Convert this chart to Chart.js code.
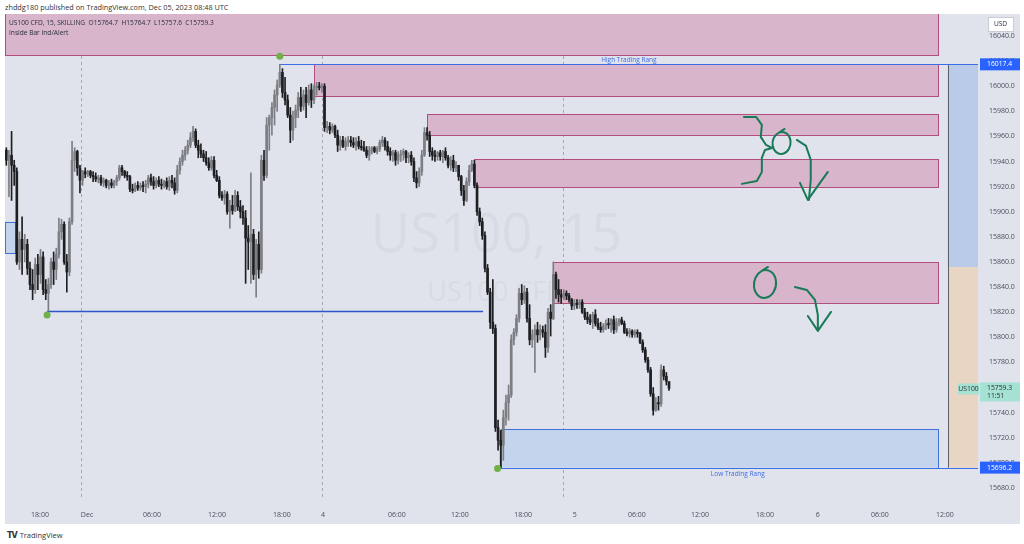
<!DOCTYPE html>
<html>
<head>
<meta charset="utf-8">
<script src="https://cdn.jsdelivr.net/npm/chart.js@4.4.1/dist/chart.umd.min.js"></script>
<style>
  body { margin: 0; background: #fff; width: 1024px; height: 544px; overflow: hidden; position: relative; font-family: 'Open Sans', sans-serif; }
  #hdr { position: absolute; left: 5px; top: 2px; font-size: 7.3px; color: #333; white-space: nowrap; }
  #wrap { position: absolute; left: 5px; top: 14px; width: 1015px; height: 510px; }
  #logo { position: absolute; left: 7px; top: 530px; font-size: 7.5px; color: #333; white-space: nowrap; }
  #logo b { font-family: 'DejaVu Sans', sans-serif; font-size: 8px; letter-spacing: -1px; margin-right: 3px; }
</style>
</head>
<body>
<div id="hdr">zhddg180 published on TradingView.com, Dec 05, 2023 08:48 UTC</div>
<div id="wrap"><canvas id="chart"></canvas></div>
<div id="logo"><b>TV</b>TradingView</div>
<script>
// US100 CFD, 15 min bars (Nov 30 14:45 -> Dec 5 08:45)
const opens = [
  15949,15941,15945,15937,15932,15860,15878,15870,15874,15855,
  15842,15838,15858,15850,15864,15838,15835,15842,15860,15854,
  15866,15884,15890,15860,15852,15892,15941,15948,15935,15925,
  15932,15930,15932,15929,15928,15926,15927,15923,15925,15921,
  15923,15921,15924,15927,15935,15932,15929,15928,15918,15917,
  15921,15919,15921,15920,15922,15927,15924,15921,15925,15922,
  15921,15924,15920,15925,15923,15917,15933,15940,15945,15949,
  15953,15959,15964,15953,15949,15946,15943,15939,15935,15941,
  15929,15925,15913,15911,15914,15900,15905,15901,15913,15904,
  15900,15895,15879,15876,15882,15850,15874,15854,15941,15929,
  15969,15975,15983,15993,16001,16011,15995,15989,15977,15965,
  15975,15981,15991,15984,15993,15987,15997,15989,15999,16000,
  15999,16000,15967,15968,15965,15968,15961,15953,15957,15952,
  15956,15957,15955,15953,15956,15952,15951,15949,15945,15949,
  15951,15948,15950,15955,15957,15952,15948,15945,15947,15941,
  15945,15946,15948,15943,15945,15940,15927,15923,15932,15945,
  15963,15961,15948,15945,15944,15947,15944,15948,15943,15937,
  15941,15935,15937,15928,15917,15909,15924,15933,15938,15921,
  15900,15892,15881,15855,15836,15812,15807,15728,15718,15714,
  15736,15748,15754,15798,15804,15815,15835,15830,15836,15815,
  15798,15802,15806,15802,15806,15804,15792,15820,15815,15850,
  15838,15834,15832,15835,15833,15830,15825,15827,15826,15828,
  15820,15816,15814,15812,15818,15811,15808,15806,15809,15811,
  15810,15814,15806,15812,15814,15811,15804,15803,15805,15802,
  15804,15803,15796,15790,15782,15774,15755,15742,15748,15747,
  15774,15769,15764.7
];
const highs = [
  15951,15949,15964,15941,15935,15884,15896,15882,15878,15860,
  15854,15863,15866,15870,15868,15846,15847,15863,15868,15871,
  15895,15894,15892,15866,15895,15956,15951,15949,15937,15933,
  15935,15933,15933,15932,15931,15929,15929,15927,15926,15925,
  15926,15925,15929,15937,15937,15933,15932,15929,15922,15923,
  15924,15923,15924,15925,15929,15930,15928,15927,15928,15926,
  15925,15927,15928,15929,15927,15937,15943,15949,15952,15957,
  15963,15968,15966,15957,15954,15949,15948,15943,15944,15944,
  15933,15928,15916,15917,15916,15909,15913,15917,15916,15909,
  15905,15901,15889,15931,15886,15878,15884,15945,15949,15975,
  15977,15987,15997,16005,16017.4,16014,16007,15993,15983,15980,
  15985,15995,15999,15997,15999,16001,16002,16001,16003,16003,
  16002,16002,15972,15971,15970,15969,15965,15960,15960,15959,
  15960,15960,15959,15959,15960,15957,15956,15952,15952,15952,
  15952,15952,15957,15960,15959,15956,15951,15949,15949,15948,
  15949,15950,15949,15947,15948,15943,15932,15935,15949,15967,
  15967,15964,15951,15949,15948,15949,15949,15951,15945,15944,
  15945,15940,15937,15929,15921,15927,15937,15941,15941,15923,
  15903,15895,15884,15858,15839,15846,15810,15734,15726,15742,
  15754,15762,15802,15807,15818,15839,15842,15841,15839,15826,
  15806,15810,15812,15810,15809,15810,15823,15826,15860,15852,
  15846,15838,15838,15837,15835,15831,15830,15830,15830,15830,
  15823,15820,15818,15820,15822,15815,15812,15811,15814,15815,
  15815,15817,15815,15815,15816,15813,15807,15807,15806,15806,
  15806,15804,15798,15792,15784,15776,15760,15752,15753,15778,
  15777,15772,15764.7
];
const lows = [
  15937,15912,15909,15921,15858,15854,15850,15860,15850,15838,
  15830,15835,15838,15843,15834,15830,15821,15839,15842,15846,
  15863,15878,15858,15836,15849,15890,15932,15929,15915,15921,
  15927,15928,15927,15924,15924,15923,15921,15920,15919,15918,
  15919,15919,15921,15925,15929,15927,15925,15916,15915,15916,
  15917,15917,15916,15915,15919,15921,15918,15919,15920,15918,
  15919,15918,15917,15919,15914,15915,15930,15937,15941,15946,
  15951,15956,15951,15943,15943,15940,15937,15933,15933,15927,
  15924,15911,15909,15906,15898,15887,15898,15900,15901,15895,
  15890,15843,15854,15843,15846,15832,15847,15851,15925,15927,
  15949,15961,15969,15980,15999,15991,15985,15975,15955,15957,
  15967,15975,15980,15981,15975,15985,15983,15986,15993,15997,
  15995,15964,15963,15962,15963,15959,15948,15949,15951,15949,
  15952,15952,15951,15949,15950,15949,15948,15943,15941,15946,
  15947,15946,15948,15952,15949,15945,15941,15940,15937,15938,
  15940,15941,15939,15939,15937,15924,15919,15920,15929,15944,
  15957,15944,15941,15940,15941,15941,15939,15941,15935,15933,
  15932,15932,15925,15913,15905,15908,15921,15932,15919,15897,
  15889,15878,15852,15834,15807,15803,15725,15710,15696.2,15702,
  15730,15734,15752,15794,15801,15812,15826,15827,15812,15794,
  15792,15772,15796,15798,15800,15784,15788,15801,15814,15831,
  15828,15827,15830,15830,15828,15822,15822,15823,15823,15819,
  15814,15811,15810,15807,15809,15806,15804,15804,15806,15807,
  15804,15803,15804,15809,15810,15803,15801,15800,15800,15800,
  15800,15795,15788,15780,15772,15753,15738,15741,15742,15745,
  15766,15762,15757.6
];
const closes = [
  15941,15945,15937,15932,15860,15878,15870,15874,15855,15842,
  15838,15858,15850,15864,15838,15835,15842,15860,15854,15866,
  15884,15890,15860,15852,15892,15941,15948,15935,15925,15932,
  15930,15932,15929,15928,15926,15927,15923,15925,15921,15923,
  15921,15924,15927,15935,15932,15929,15928,15918,15917,15921,
  15919,15921,15920,15922,15927,15924,15921,15925,15922,15921,
  15924,15920,15925,15923,15917,15933,15940,15945,15949,15953,
  15959,15964,15953,15949,15946,15943,15939,15935,15941,15929,
  15925,15913,15911,15914,15900,15905,15901,15913,15904,15900,
  15895,15879,15876,15882,15850,15874,15854,15941,15929,15969,
  15975,15983,15993,16001,16011,15995,15989,15977,15965,15975,
  15981,15991,15984,15993,15987,15997,15989,15999,16000,15999,
  16000,15967,15968,15965,15968,15961,15953,15957,15952,15956,
  15957,15955,15953,15956,15952,15951,15949,15945,15949,15951,
  15948,15950,15955,15957,15952,15948,15945,15947,15941,15945,
  15946,15948,15943,15945,15940,15927,15923,15932,15945,15963,
  15961,15948,15945,15944,15947,15944,15948,15943,15937,15941,
  15935,15937,15928,15917,15909,15924,15933,15938,15921,15900,
  15892,15881,15855,15836,15812,15807,15728,15718,15714,15736,
  15748,15754,15798,15804,15815,15835,15830,15836,15815,15798,
  15802,15806,15802,15806,15804,15792,15820,15815,15850,15838,
  15834,15832,15835,15833,15830,15825,15827,15826,15828,15820,
  15816,15814,15812,15818,15811,15808,15806,15809,15811,15810,
  15814,15806,15812,15814,15811,15804,15803,15805,15802,15804,
  15803,15796,15790,15782,15774,15755,15742,15748,15747,15774,
  15769,15765,15759.3
];

// time axis (bar index) and price axis
const xTickPos = [12.8, 30.7, 55.4, 80.1, 104.8, 120.4, 148.5, 172.5, 196.5, 216.2, 239.8, 263.8, 288.5, 308.6, 332.2, 356.9];
const xTickLabels = ['18:00', 'Dec', '06:00', '12:00', '18:00', '4', '06:00', '12:00', '18:00', '5', '06:00', '12:00', '18:00', '6', '06:00', '12:00'];
const sessionBreaks = [28.3, 120, 211.7];
const yTicks = [15680, 15700, 15720, 15740, 15760, 15780, 15800, 15820, 15840, 15860, 15880, 15900, 15920, 15940, 15960, 15980, 16000, 16020, 16040];

// drawn zones (bar index from/to, price top/bottom)
const zoneStart = [-0.5, 117, 160, 178, 208, 188, -0.5];
const zoneEnd = [354.3, 354.3, 354.3, 354.3, 354.3, 354.3, 3.3];
const zoneTop = [16070, 16017.7, 15977.9, 15942.0, 15860.0, 15727.0, 15892];
const zoneBottom = [16024.9, 15992.2, 15961.2, 15919.7, 15827.4, 15696.2, 15867];
const zoneKind = ['supply', 'supply', 'supply', 'supply', 'supply', 'demand', 'demand'];

// horizontal levels
const levelStart = [104, 186.8, 15.5];
const levelEnd = [369.5, 369.5, 181.3];
const levelPrice = [16017.4, 15696.2, 15821];
const levelText = ['High Trading Rang', 'Low Trading Rang', ''];
const pivotIdx = [104, 186.8, 15.5];
const pivotPrice = [16017.4, 15696.2, 15821];

// trading range column at the right
const rangeStart = 358;
const rangeHigh = 16017.4;
const rangeMid = 15856;
const rangeLow = 15696.2;

// hand drawn notes (bar index, price)
const noteStrokes = [
  [[280.5, 15975.5], [285.1, 15975.5], [287.3, 15969.2], [286.9, 15959.6], [288.9, 15953.2], [291.1, 15950.8], [288.5, 15949.2], [287.3, 15942.9], [287.3, 15931.7], [285.4, 15924.5], [279.7, 15922.2]],
  [[300.6, 15957.2], [304.1, 15952.4], [305.9, 15941.3], [305.9, 15925.3], [305.2, 15909.4]],
  [[301.8, 15923], [304.8, 15909.4], [312.4, 15931.7]],
  [[299.9, 15840.1], [304.4, 15837.7], [307.5, 15829.8], [308.6, 15817.8], [308.6, 15805.9]],
  [[304.8, 15817], [308.6, 15805.1], [313.6, 15820.2]]
];
const noteRings = [[294.8, 15954.8], [288.5, 15842.5]];

const upColor = '#7c7e83';
const downColor = '#1e1f22';
const candleColors = closes.map((c, i) => c >= opens[i] ? upColor : downColor);
const wickData = lows.map((l, i) => ({ x: i, y: [l, highs[i]] }));
const bodyData = opens.map((o, i) => ({ x: i, y: [o, closes[i]] }));

Chart.defaults.font.family = "'Open Sans', sans-serif";

const background = {
  id: 'background',
  beforeDraw(chart) {
    const ctx = chart.ctx;
    ctx.save();
    ctx.fillStyle = '#e0e3eb';
    ctx.fillRect(0, 0, chart.width, chart.height);
    ctx.restore();
  }
};

const drawings = {
  id: 'drawings',
  beforeDatasetsDraw(chart) {
    const { ctx, chartArea: a, scales: { x, y } } = chart;
    ctx.save();
    ctx.beginPath();
    ctx.rect(a.left, a.top, a.right - a.left, a.bottom - a.top);
    ctx.clip();

    // watermark
    ctx.fillStyle = 'rgba(40, 50, 80, 0.045)';
    ctx.textAlign = 'center';
    ctx.textBaseline = 'middle';
    const cx = (a.left + a.right) / 2;
    ctx.font = "54px 'Open Sans', sans-serif";
    ctx.fillText('US100, 15', cx + 5, a.top + 223);
    ctx.font = "27px 'Open Sans', sans-serif";
    ctx.fillText('US100 CFD', cx + 5, a.top + 279);

    // session breaks
    ctx.strokeStyle = '#a3a7b0';
    ctx.lineWidth = 1;
    ctx.setLineDash([3, 3]);
    sessionBreaks.forEach(v => {
      const px = Math.round(x.getPixelForValue(v)) + 0.5;
      ctx.beginPath();
      ctx.moveTo(px, a.top);
      ctx.lineTo(px, a.bottom);
      ctx.stroke();
    });
    ctx.setLineDash([]);

    // zones
    zoneKind.forEach((k, i) => {
      const x1 = x.getPixelForValue(zoneStart[i]);
      const x2 = x.getPixelForValue(zoneEnd[i]);
      const y1 = y.getPixelForValue(zoneTop[i]);
      const y2 = y.getPixelForValue(zoneBottom[i]);
      ctx.fillStyle = k === 'supply' ? '#d8b5ca' : '#c4d4ec';
      ctx.strokeStyle = k === 'supply' ? '#b24d7e' : '#4172d8';
      ctx.fillRect(x1, y1, x2 - x1, y2 - y1);
      ctx.strokeRect(Math.round(x1) + 0.5, Math.round(y1) + 0.5, Math.round(x2 - x1), Math.round(y2 - y1));
    });

    // range column
    const rx = x.getPixelForValue(rangeStart);
    const yH = y.getPixelForValue(rangeHigh), yM = y.getPixelForValue(rangeMid), yL = y.getPixelForValue(rangeLow);
    ctx.fillStyle = '#b9cbe9';
    ctx.fillRect(rx, yH, a.right - rx, yM - yH);
    ctx.fillStyle = '#e8d5c3';
    ctx.fillRect(rx, yM, a.right - rx, yL - yM);
    ctx.strokeStyle = '#5d606b';
    ctx.beginPath();
    ctx.moveTo(Math.round(rx) + 0.5, yH);
    ctx.lineTo(Math.round(rx) + 0.5, yL);
    ctx.stroke();

    // levels
    levelPrice.forEach((p, i) => {
      const py = Math.round(y.getPixelForValue(p)) + 0.5;
      const x1 = x.getPixelForValue(levelStart[i]);
      const x2 = x.getPixelForValue(levelEnd[i]);
      ctx.strokeStyle = i === 2 ? '#2a56c9' : '#3b6ee6';
      ctx.lineWidth = i === 2 ? 1.3 : 1;
      ctx.beginPath();
      ctx.moveTo(x1, py);
      ctx.lineTo(x2, py);
      ctx.stroke();
      if (levelText[i]) {
        ctx.fillStyle = '#3b6ee6';
        ctx.font = "6.5px 'Open Sans', sans-serif";
        ctx.textAlign = 'center';
        ctx.textBaseline = i === 0 ? 'bottom' : 'top';
        ctx.fillText(levelText[i], (x1 + x2) / 2, i === 0 ? py - 1 : py + 2);
      }
    });
    ctx.restore();
  },
  afterDatasetsDraw(chart) {
    const { ctx, scales: { x, y } } = chart;
    ctx.save();
    // pivots
    ctx.fillStyle = '#6fb04a';
    pivotIdx.forEach((v, i) => {
      const off = i === 0 ? -8 : (i === 1 ? 1 : 4);
      ctx.beginPath();
      ctx.arc(x.getPixelForValue(v), y.getPixelForValue(pivotPrice[i]) + off, 3.5, 0, Math.PI * 2);
      ctx.fill();
    });

    // hand notes
    ctx.strokeStyle = '#187a57';
    ctx.lineWidth = 2;
    ctx.lineCap = 'round';
    ctx.lineJoin = 'round';
    noteStrokes.forEach(s => {
      ctx.beginPath();
      s.forEach((pt, k) => {
        const px = x.getPixelForValue(pt[0]), py = y.getPixelForValue(pt[1]);
        if (k === 0) ctx.moveTo(px, py); else ctx.lineTo(px, py);
      });
      ctx.stroke();
    });
    noteRings.forEach((r, k) => {
      const rx = k === 0 ? 9 : 11, ry = k === 0 ? 11 : 14;
      const cx = x.getPixelForValue(r[0]), cy = y.getPixelForValue(r[1]);
      ctx.beginPath();
      ctx.ellipse(cx, cy, rx, ry, 0.15, -1.9, 4.2);
      ctx.lineTo(cx + 3, cy - ry - 3);
      ctx.stroke();
    });
    ctx.restore();
  },
  afterDraw(chart) {
    const { ctx, chartArea: a, scales: { y } } = chart;
    ctx.save();
    // legend lines
    ctx.fillStyle = '#2a2e39';
    ctx.font = "6.6px 'Open Sans', sans-serif";
    ctx.textAlign = 'left';
    ctx.textBaseline = 'middle';
    ctx.fillText('US100 CFD, 15, SKILLING  O15764.7  H15764.7  L15757.6  C15759.3', a.left + 4, a.top + 9);
    ctx.fillText('Inside Bar Ind/Alert', a.left + 4, a.top + 19);

    // currency box
    ctx.fillStyle = '#ffffff';
    ctx.strokeStyle = '#c9ccd4';
    ctx.fillRect(a.right + 10, a.top + 3, 25, 14);
    ctx.strokeRect(a.right + 10.5, a.top + 3.5, 25, 14);
    ctx.fillStyle = '#2a2e39';
    ctx.textAlign = 'center';
    ctx.fillText('USD', a.right + 22.5, a.top + 10.5);

    // price tags
    const tag = (p, txt, fill, color) => {
      const py = y.getPixelForValue(p);
      ctx.fillStyle = fill;
      ctx.fillRect(a.right + 2, py - 6, 40, 12);
      ctx.fillStyle = color;
      ctx.textAlign = 'left';
      ctx.fillText(txt, a.right + 9, py);
    };
    ctx.font = "6.8px 'Open Sans', sans-serif";
    tag(rangeHigh, '16017.4', '#2962ff', '#ffffff');
    tag(rangeLow, '15696.2', '#2962ff', '#ffffff');

    const last = closes[closes.length - 1];
    const ly = y.getPixelForValue(last);
    ctx.fillStyle = '#a6e2d4';
    ctx.fillRect(a.right + 2, ly - 6, 40, 19);
    ctx.fillRect(a.right - 20, ly - 5, 21, 11);
    ctx.fillStyle = '#2a2e39';
    ctx.fillText(last.toFixed(1), a.right + 9, ly);
    ctx.fillText('11:51', a.right + 9, ly + 8);
    ctx.textAlign = 'center';
    ctx.fillText('US100', a.right - 9.5, ly + 0.5);
    ctx.restore();
  }
};

new Chart(document.getElementById('chart'), {
  type: 'bar',
  data: {
    datasets: [
      { data: wickData, backgroundColor: candleColors, barThickness: 1, grouped: false, order: 2 },
      { data: bodyData, backgroundColor: candleColors, barThickness: 2, grouped: false, minBarLength: 1, order: 1 }
    ]
  },
  options: {
    responsive: true,
    maintainAspectRatio: false,
    animation: false,
    layout: { padding: 0 },
    plugins: { legend: { display: false }, tooltip: { enabled: false } },
    scales: {
      x: {
        type: 'linear',
        min: -0.5,
        max: 369.5,
        offset: false,
        grid: { display: false, drawTicks: false },
        border: { display: false },
        afterBuildTicks: s => { s.ticks = xTickPos.map(v => ({ value: v })); },
        afterFit: s => { s.height = 27; s.paddingLeft = 0; s.paddingRight = 0; },
        ticks: {
          autoSkip: false,
          maxRotation: 0,
          padding: 14,
          color: '#4a4e59',
          font: { size: 7 },
          callback: (v, k) => xTickLabels[k]
        }
      },
      y: {
        position: 'right',
        min: 15672.8,
        max: 16057.5,
        grid: { display: false, drawTicks: false },
        border: { display: false },
        afterBuildTicks: s => { s.ticks = yTicks.map(v => ({ value: v })); },
        afterFit: s => { s.width = 42; s.paddingTop = 0; s.paddingBottom = 0; },
        ticks: {
          padding: 11,
          color: '#4a4e59',
          font: { size: 7 },
          callback: v => v.toFixed(1)
        }
      }
    }
  },
  plugins: [background, drawings]
});
</script>
</body>
</html>
